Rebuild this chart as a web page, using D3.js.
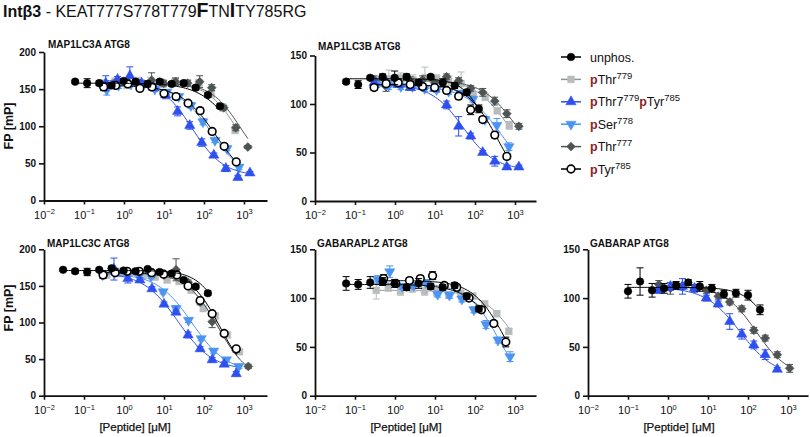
<!DOCTYPE html>
<html><head><meta charset="utf-8">
<script src="https://cdn.jsdelivr.net/npm/d3@7"></script>
<style>
body{margin:0;background:#fff}
svg{display:block}
text{font-family:"Liberation Sans",Arial,Helvetica,sans-serif}
</style>
</head><body>
<svg id="chart" width="810" height="437"></svg>
<script>
// ---------------- DATA ----------------
const decadeTicks = [1e-2, 1e-1, 1e0, 1e1, 1e2, 1e3];
const decadeExponents = ["\u22122", "\u22121", "0", "1", "2", "3"];
const yTicks200 = [0, 50, 100, 150, 200];
const yTicks150 = [0, 50, 100, 150];
const panelTitles = ["MAP1LC3A ATG8", "MAP1LC3B ATG8", "MAP1LC3C ATG8", "GABARAPL2 ATG8", "GABARAP ATG8"];
const legendOrder = ["unphos", "pThr779", "pThr779pTyr785", "pSer778", "pThr777", "pTyr785"];
const drawOrder = ["pThr779", "pThr777", "pSer778", "pThr779pTyr785", "pTyr785", "unphos"];

// fit = [top, bottom, logEC50, hill]
// MAP1LC3A
const lc3a_unphos = {conc:[0.06,0.12,0.24,0.49,0.98,1.95,3.9,7.8,15.6,31,62,125,250], fp:[160,158,158,155,161,160,157,160,157,158,152,142,127], err:[2,6,3,4,3,3,4,3,3,3,3,3,3], fit:[158,40,2.75,1]};
const lc3a_pThr779 = {conc:[0.3,0.6,1.2,2.3,4.7,9.4,19,38,75,150,300,600], fp:[158,160,155,160,158,157,160,158,158,143,125,95], err:[4,5,4,6,8,5,5,4,5,4,5,5], fit:[158,40,2.8,1.2]};
const lc3a_pThr777 = {conc:[0.3,0.6,1.2,2.4,4.9,9.8,19.5,39,78,156,312,625,1250], fp:[155,158,160,157,162,158,160,158,160,152,125,98,72], err:[3,4,4,4,10,4,5,4,8,4,3,4,2], fit:[158,40,2.9,1.2]};
const lc3a_pSer778 = {conc:[0.37,0.73,1.5,2.9,5.9,11.7,23.4,47,94,188,375,750], fp:[149,155,157,155,150,146,140,128,106,81,70,45], err:[7,4,3,3,3,3,3,4,4,3,3,3], fit:[156,25,2.2,1]};
const lc3a_pThr779pTyr785 = {conc:[0.35,0.69,1.4,2.75,5.5,11,22,44,88,176,352,704,1408], fp:[158,163,168,158,152,142,120,101,78,61,43,31,37], err:[10,4,12,4,3,5,6,5,5,3,4,3,2], fit:[162,33,1.7,1.1]};
const lc3a_pTyr785 = {conc:[0.31,0.62,1.25,2.5,5,10,20,40,80,160,320,640], fp:[153,155,157,151,153,144,140,131,121,93,73,52], err:[5,4,3,3,3,3,4,3,4,3,3,3], fit:[155,20,2.3,1]};

// MAP1LC3B
const lc3b_unphos = {conc:[0.06,0.12,0.24,0.49,0.98,1.95,3.9,7.8,15.6,31,62,125], fp:[123,120,127,128,127,128,122,128,122,119,112,95], err:[2,4,2,3,7,3,3,2,4,3,3,4], fit:[126,30,2.3,1.5]};
const lc3b_pThr779 = {conc:[0.35,0.7,1.4,2.8,5.6,11,22,45,90,180,360,720], fp:[124,126,127,125,127,126,124,121,109,107,93,78], err:[4,9,5,5,11,4,5,12,4,3,3,4], fit:[125,40,2.75,1.1]};
const lc3b_pThr777 = {conc:[0.3,0.6,1.2,2.4,4.9,9.8,19.5,39,78,156,312,625,1250], fp:[125,118,123,124,125,122,128,124,116,112,103,90,77], err:[4,5,3,4,4,3,3,3,3,4,4,4,3], fit:[124,40,2.95,1.1]};
const lc3b_pSer778 = {conc:[0.34,0.69,1.4,2.75,5.5,11,22,44,88,176,352,704], fp:[120,119,118,118,116,115,113,111,105,84,78,56], err:[3,4,3,4,3,3,3,3,3,3,7,4], fit:[118,20,2.65,1]};
const lc3b_pThr779pTyr785 = {conc:[0.3,0.6,1.2,2.4,4.9,9.8,19.5,39,78,156,312,625,1250], fp:[122,122,120,117,118,116,99,77,67,50,41,35,35], err:[3,4,3,3,3,3,4,10,3,2,5,2,2], fit:[120,32,1.7,1.1]};
const lc3b_pTyr785 = {conc:[0.3,0.6,1.2,2.4,4.9,9.8,19.5,39,78,156,312,625], fp:[117,121,122,120,118,117,114,108,94,84,68,46], err:[3,3,3,3,3,3,3,3,5,3,3,3], fit:[120,10,2.55,1.2]};

// MAP1LC3C
const lc3c_unphos = {conc:[0.03,0.06,0.12,0.24,0.49,0.98,1.95,3.9,7.8,15.6,31,62,125], fp:[172,170,169,172,174,171,170,173,169,167,158,149,140], err:[2,3,5,2,3,3,3,2,3,3,3,3,3], fit:[171,30,2.55,1.3]};
const lc3c_pThr779 = {conc:[0.37,0.74,1.5,3,6,12,24,48,96,192,384,768], fp:[165,167,168,164,162,158,156,144,119,109,83,60], err:[4,4,3,3,3,3,3,3,3,3,3,3], fit:[168,20,2.35,1.1]};
const lc3c_pThr777 = {conc:[0.31,0.63,1.25,2.5,5,10,20,40,80,160,320,640,1280], fp:[165,170,168,168,165,165,172,155,128,101,84,62,40], err:[3,4,3,3,3,3,15,3,4,8,3,3,3], fit:[168,20,2.35,1.1]};
const lc3c_pSer778 = {conc:[0.29,0.58,1.2,2.3,4.7,9.5,20,41,85,174,363,741], fp:[165,168,166,165,163,142,119,103,78,61,49,40], err:[4,3,3,3,3,3,4,3,3,3,3,3], fit:[167,32,1.7,1]};
const lc3c_pThr779pTyr785 = {conc:[0.56,1.25,2.5,5,10,20,40,80,160,320,640], fp:[173,160,158,146,125,114,83,64,49,43,30], err:[15,6,3,3,3,3,4,3,3,3,3], fit:[168,35,1.35,1]};
const lc3c_pTyr785 = {conc:[0.3,0.6,1.2,2.4,4.9,9.8,21,40,80,160,320,640], fp:[165,168,170,170,168,166,165,150,130,112,85,64], err:[5,3,3,3,3,3,3,3,3,3,3,3], fit:[168,20,2.4,1.2]};

// GABARAPL2
const l2_unphos = {conc:[0.06,0.12,0.24,0.49,0.98,1.95,3.9,7.8,15.6,31,62,125], fp:[115,114,116,117,115,111,115,112,111,113,102,89], err:[7,5,6,4,4,3,5,3,3,3,3,3], fit:[114,20,2.6,1]};
const l2_pThr779 = {conc:[0.34,0.68,1.37,2.7,5.5,11,22,44,88,175,350,700], fp:[108,112,107,110,107,106,103,105,102,94,84,66], err:[9,5,4,4,4,4,3,3,3,3,3,3], fit:[108,0,3.1,1]};
const l2_pSer778 = {conc:[0.37,0.74,1.5,2.9,5.9,11.7,23,47,94,188,375,750], fp:[119,127,112,113,116,104,103,99,88,73,57,40], err:[4,6,3,3,3,3,3,3,3,4,3,5], fit:[115,0,2.6,1.1]};
const l2_pTyr785 = {conc:[0.52,1.05,2.3,4.3,8.7,17,35,71,145,295,590], fp:[120,115,118,120,123,113,111,100,88,74,55], err:[4,3,3,3,4,3,3,3,3,3,5], fit:[118,0,2.75,1.1]};

// GABARAP
const gab_unphos = {conc:[0.1,0.2,0.4,0.8,1.6,3.2,6.25,12.5,25,50,100,200], fp:[107,117,108,110,113,116,112,110,104,105,103,88], err:[7,14,7,5,4,3,5,4,4,4,5,5], fit:[111,30,2.6,1.3]};
const gab_pThr777 = {conc:[0.59,1.15,2.3,4.6,9.1,18,35,70,140,270,540,1100], fp:[114,110,112,110,108,102,96,89,67,59,42,28], err:[4,6,3,3,3,3,3,3,3,3,3,4], fit:[112,20,2.2,1.1]};
const gab_pThr779pTyr785 = {conc:[0.59,1.15,2.3,4.6,9.1,18,35,70,140,270,540], fp:[108,112,112,110,100,94,76,63,52,42,27], err:[3,4,8,4,3,3,8,5,4,5,2], fit:[111,20,1.8,1]};

// ---------------- STYLE / LAYOUT ----------------
const styles = {
  unphos:         {shape:"circle",  fill:"#000000", stroke:"#000000", line:"#000000", eb:"#000000"},
  pThr779:        {shape:"square",  fill:"#b8bcbc", stroke:"#b8bcbc", line:"#8f9494", eb:"#b8bcbc"},
  pThr779pTyr785: {shape:"triUp",   fill:"#2e50ee", stroke:"#2e50ee", line:"#2e50ee", eb:"#2e50ee"},
  pSer778:        {shape:"triDown", fill:"#4c94f2", stroke:"#4c94f2", line:"#4c94f2", eb:"#4c94f2"},
  pThr777:        {shape:"diamond", fill:"#4e5353", stroke:"#4e5353", line:"#4e5353", eb:"#4e5353"},
  pTyr785:        {shape:"open",    fill:"#ffffff", stroke:"#000000", line:"#000000", eb:"#000000"}
};

const panels = [
  {title:panelTitles[0], x0:44,  x1:267, yT:52,    yB:200.5, ymax:200, ticks:yTicks200, tx:48,  ty:47.5, ylab:true,  xlab:false,
   data:{unphos:lc3a_unphos, pThr779:lc3a_pThr779, pThr777:lc3a_pThr777, pSer778:lc3a_pSer778, pThr779pTyr785:lc3a_pThr779pTyr785, pTyr785:lc3a_pTyr785}},
  {title:panelTitles[1], x0:315, x1:536, yT:55.5,  yB:201,   ymax:150, ticks:yTicks150, tx:318, ty:50,   ylab:false, xlab:false,
   data:{unphos:lc3b_unphos, pThr779:lc3b_pThr779, pThr777:lc3b_pThr777, pSer778:lc3b_pSer778, pThr779pTyr785:lc3b_pThr779pTyr785, pTyr785:lc3b_pTyr785}},
  {title:panelTitles[2], x0:44,  x1:267, yT:249.3, yB:395.7, ymax:200, ticks:yTicks200, tx:47,  ty:246.5, ylab:true, xlab:true,
   data:{unphos:lc3c_unphos, pThr779:lc3c_pThr779, pThr777:lc3c_pThr777, pSer778:lc3c_pSer778, pThr779pTyr785:lc3c_pThr779pTyr785, pTyr785:lc3c_pTyr785}},
  {title:panelTitles[3], x0:315, x1:536, yT:249.3, yB:395.7, ymax:150, ticks:yTicks150, tx:317, ty:246.5, ylab:false, xlab:true,
   data:{unphos:l2_unphos, pThr779:l2_pThr779, pSer778:l2_pSer778, pTyr785:l2_pTyr785}},
  {title:panelTitles[4], x0:588, x1:808, yT:249.3, yB:395.7, ymax:150, ticks:yTicks150, tx:590, ty:246.5, ylab:false, xlab:true,
   data:{unphos:gab_unphos, pThr777:gab_pThr777, pThr779pTyr785:gab_pThr779pTyr785}}
];

const svg = d3.select("#chart");

function markerPath(shape) {
  switch (shape) {
    case "circle": case "open": return d3.symbol(d3.symbolCircle, 46)();
    case "square": return d3.symbol(d3.symbolSquare, 46)();
    case "triUp": return d3.symbol(d3.symbolTriangle, 46)();
    case "triDown": return d3.symbol(d3.symbolTriangle, 46)();
    case "diamond": return d3.symbol(d3.symbolSquare, 40)();
  }
}
function markerRot(shape) {
  return shape === "triDown" ? 180 : (shape === "diamond" ? 45 : 0);
}
function drawMarker(g, cx, cy, st) {
  g.append("path").attr("d", markerPath(st.shape))
    .attr("transform", `translate(${cx},${cy}) rotate(${markerRot(st.shape)})`)
    .attr("fill", st.fill).attr("stroke", st.stroke)
    .attr("stroke-width", st.shape === "open" ? 1.6 : 0.5);
}

const logistic = (f, lx) => f[1] + (f[0] - f[1]) / (1 + Math.pow(10, (lx - f[2]) * f[3]));

panels.forEach(p => {
  const g = svg.append("g");
  const x = d3.scaleLog().domain([1e-2, Math.pow(10, -2 + (p.x1 - p.x0) / 40)]).range([p.x0, p.x1]);
  const y = d3.scaleLinear().domain([0, p.ymax]).range([p.yB, p.yT]);

  // axes
  const ax = g.append("g").attr("transform", `translate(0,${p.yB})`)
    .call(d3.axisBottom(x).tickValues(decadeTicks).tickSize(4).tickSizeOuter(0).tickPadding(4).tickFormat(() => ""));
  ax.selectAll(".tick text").each(function(d, i) {
    const t = d3.select(this).text(null).attr("font-size", 11).attr("fill", "#111")
      .attr("font-family", '"Liberation Sans",Arial,sans-serif').attr("dy", "0.95em");
    t.append("tspan").text("10");
    t.append("tspan").text(decadeExponents[i]).attr("font-size", 7.5).attr("dy", -4.5);
  });
  const ay = g.append("g").attr("transform", `translate(${p.x0},0)`)
    .call(d3.axisLeft(y).tickValues(p.ticks).tickSize(5).tickSizeOuter(0).tickPadding(3));
  ay.selectAll(".tick text").attr("font-size", 10).attr("font-weight", "bold").attr("fill", "#111")
    .attr("font-family", '"Liberation Sans",Arial,sans-serif');
  [ax, ay].forEach(a => {
    a.select(".domain").attr("stroke", "#111").attr("stroke-width", 1.8);
    a.selectAll(".tick line").attr("stroke", "#111").attr("stroke-width", 1.6);
  });

  g.append("text").attr("x", p.tx).attr("y", p.ty).attr("font-size", 10).attr("font-weight", "bold")
    .attr("fill", "#111").text(p.title);

  if (p.ylab) {
    g.append("text").attr("transform", `translate(13,${p.yT === 52 ? 126 : 308}) rotate(-90)`)
      .attr("text-anchor", "middle").attr("font-size", 12.5).attr("font-weight", "bold").attr("fill", "#111")
      .text("FP [mP]");
  }
  if (p.xlab) {
    g.append("text").attr("x", p.x0 + 91).attr("y", 431).attr("text-anchor", "middle")
      .attr("font-size", 11.5).attr("fill", "#111").attr("stroke", "#111").attr("stroke-width", 0.25)
      .text("[Peptide] [\u03bcM]");
  }

  const line = d3.line().x(d => x(d[0])).y(d => y(d[1]));
  drawOrder.forEach(key => {
    const s = p.data[key];
    if (!s) return;
    const st = styles[key];
    const lo = Math.log10(d3.min(s.conc)), hi = Math.log10(d3.max(s.conc));
    const pts = d3.range(0, 81).map(i => {
      const lx = lo + (hi - lo) * i / 80;
      return [Math.pow(10, lx), logistic(s.fit, lx)];
    });
    g.append("path").attr("d", line(pts)).attr("fill", "none").attr("stroke", st.line).attr("stroke-width", 1);
    const gs = g.append("g");
    s.conc.forEach((c, i) => {
      const cx = x(c), v = s.fp[i], e = s.err[i];
      gs.append("path")
        .attr("d", `M${cx},${y(v - e)}V${y(v + e)}M${cx - 3.5},${y(v + e)}H${cx + 3.5}M${cx - 3.5},${y(v - e)}H${cx + 3.5}`)
        .attr("stroke", st.eb).attr("stroke-width", 1).attr("fill", "none");
    });
    s.conc.forEach((c, i) => drawMarker(gs, x(c), y(s.fp[i]), st));
  });
});

// ---------------- TITLE ----------------
const titleParts = [
  {t:"Int\u03b23", b:true, s:16},
  {t:" - KEAT777S778T779", s:16},
  {t:"F", b:true, s:19.5},
  {t:"TN", s:16},
  {t:"I", b:true, s:19.5},
  {t:"TY785RG", s:16}
];
const tt = svg.append("text").attr("x", 3).attr("y", 16.7).attr("fill", "#111");
titleParts.forEach(pt => {
  const ts = tt.append("tspan").text(pt.t).attr("font-size", pt.s);
  if (pt.b) ts.attr("font-weight", "bold");
});

// ---------------- LEGEND ----------------
const red = "#8e1d1d";
const legendLabels = {
  unphos: [{t:"unphos."}],
  pThr779: [{t:"p", red:1}, {t:"Thr"}, {t:"779", sup:1}],
  pThr779pTyr785: [{t:"p", red:1}, {t:"Thr7"}, {t:"779", sup:1}, {t:"p", red:1}, {t:"Tyr"}, {t:"785", sup:1}],
  pSer778: [{t:"p", red:1}, {t:"Ser"}, {t:"778", sup:1}],
  pThr777: [{t:"p", red:1}, {t:"Thr"}, {t:"777", sup:1}],
  pTyr785: [{t:"p", red:1}, {t:"Tyr"}, {t:"785", sup:1}]
};
const legendY = d3.scalePoint().domain(legendOrder).range([57, 169]);
const lg = svg.append("g");
legendOrder.forEach(key => {
  const st = styles[key];
  const cy = legendY(key);
  lg.append("line").attr("x1", 561).attr("x2", 581).attr("y1", cy).attr("y2", cy)
    .attr("stroke", st.line).attr("stroke-width", 1.5);
  drawMarker(lg, 571, cy, st);
  const t = lg.append("text").attr("x", 590).attr("y", cy + 4.5).attr("font-size", 12.5).attr("fill", "#111");
  let shift = 0;
  legendLabels[key].forEach(pt => {
    const ts = t.append("tspan").text(pt.t);
    if (pt.red) ts.attr("fill", red).attr("font-weight", "bold");
    const target = pt.sup ? -5 : 0;
    if (target !== shift) { ts.attr("dy", target - shift); shift = target; }
    if (pt.sup) ts.attr("font-size", 9.5);
  });
});
</script>
</body></html>
